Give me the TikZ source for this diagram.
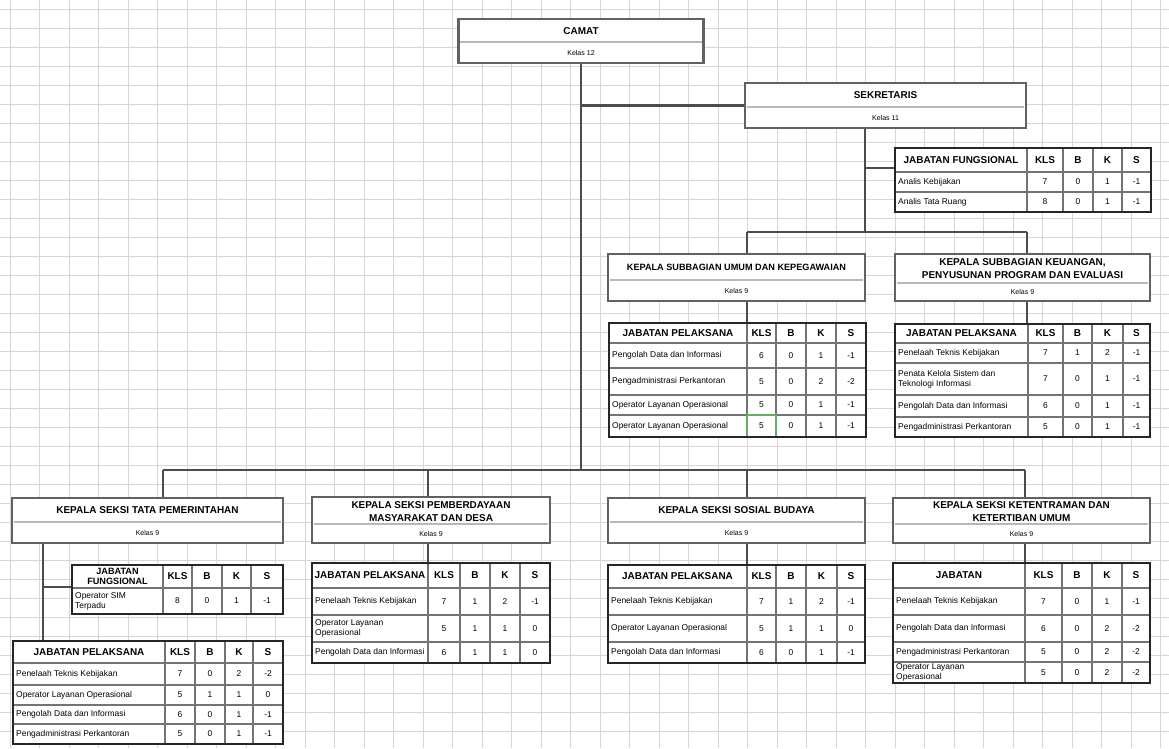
\documentclass[tikz,border=0pt]{standalone}
\usepackage{fontspec}
\setmainfont{Liberation Sans}
\pgfdeclarelayer{background}
\pgfsetlayers{background,main}

\newcommand{\upx}{0.03cm}
% kolom tabel: kiri, KLS, B, K, S, kanan
\newcommand{\kolom}[6]{\def\tL{#1}\def\tA{#2}\def\tB{#3}\def\tC{#4}\def\tD{#5}\def\tR{#6}}
\newcommand{\bingkai}[2]{%
  \fill[white] (\tL,#1) rectangle (\tR,#2);
  \foreach \cx in {\tA,\tB,\tC,\tD} \draw[dalam] (\cx,#1) -- (\cx,#2);
}
\newcommand{\tutup}[2]{\draw[luar] (\tL,#1) rectangle (\tR,#2);}
\newcommand{\kepala}[5][]{%
  \node[tkepala,#1] (#2-j) at ({(\tL+\tA)/2},{(#3+#4)/2}) {#5};
  \node[tkepala] (#2-k) at ({(\tA+\tB)/2},{(#3+#4)/2}) {KLS};
  \node[tkepala] (#2-b) at ({(\tB+\tC)/2},{(#3+#4)/2}) {B};
  \node[tkepala] (#2-c) at ({(\tC+\tD)/2},{(#3+#4)/2}) {K};
  \node[tkepala] (#2-s) at ({(\tD+\tR)/2},{(#3+#4)/2}) {S};
}
\newcommand{\baris}[8]{%
  \draw[dalam] (\tL,#2) -- (\tR,#2);
  \node[isi, anchor=west] (#1n) at (\tL+3,{(#2+#3)/2}) {#4};
  \node[isi] (#1k) at ({(\tA+\tB)/2},{(#2+#3)/2}) {#5};
  \node[isi] (#1b) at ({(\tB+\tC)/2},{(#2+#3)/2}) {#6};
  \node[isi] (#1c) at ({(\tC+\tD)/2},{(#2+#3)/2}) {#7};
  \node[isi] (#1s) at ({(\tD+\tR)/2},{(#2+#3)/2}) {#8};
}

\begin{document}
\begin{tikzpicture}[x=0.03cm, y=-0.03cm,
    kisi/.style={draw=black!16, line width=0.5pt},
    hubung/.style={draw=black!70, line width=2.2pt},
    kotak/.style={draw=black!62, line width=2.4pt, fill=white, inner sep=0pt},
    sekat/.style={draw=black!28, line width=2pt},
    luar/.style={draw=black!85, line width=2pt},
    dalam/.style={draw=black!55, line width=1.2pt},
    judul/.style={font=\fontsize{8.5}{11}\selectfont\bfseries, align=center, inner sep=0pt},
    kelas/.style={font=\fontsize{6}{7}\selectfont, inner sep=0pt},
    tkepala/.style={font=\fontsize{8.5}{9}\selectfont\bfseries, align=center, inner sep=0pt},
    isi/.style={font=\fontsize{7.2}{8.5}\selectfont, align=left, inner sep=0pt},
    ]

    \useasboundingbox (0,0) rectangle (1169,748);

    % kotak jabatan struktural
    \node[kotak, minimum width=245*\upx, minimum height=44*\upx] (camat) at (581,41) {};
    \node[kotak, minimum width=281*\upx, minimum height=45*\upx] (sekre) at (885.5,105.5) {};
    \node[kotak, minimum width=257*\upx, minimum height=47*\upx] (subum) at (736.5,277.5) {};
    \node[kotak, minimum width=255*\upx, minimum height=47*\upx] (subkeu) at (1022.5,277.5) {};
    \node[kotak, minimum width=271*\upx, minimum height=45*\upx] (kstp) at (147.5,520.5) {};
    \node[kotak, minimum width=238*\upx, minimum height=46*\upx] (kspm) at (431,520) {};
    \node[kotak, minimum width=257*\upx, minimum height=45*\upx] (kssb) at (736.5,520.5) {};
    \node[kotak, minimum width=257*\upx, minimum height=45*\upx] (kstt) at (1021.5,520.5) {};

    \draw[sekat] (460,42) -- (702,42);
    \draw[sekat] (747,107) -- (1024,107);
    \draw[sekat] (610,280) -- (863,280);
    \draw[sekat] (897,283) -- (1148,283);
    \draw[sekat] (14,522) -- (281,522);
    \draw[sekat] (314,524) -- (548,524);
    \draw[sekat] (610,522) -- (863,522);
    \draw[sekat] (895,524) -- (1148,524);

    \node[judul] (camat-j) at (581,31) {CAMAT};
    \node[kelas] (camat-k) at (581,53) {Kelas 12};
    \node[judul] (sekre-j) at (885.5,95) {SEKRETARIS};
    \node[kelas] (sekre-k) at (885.5,118) {Kelas 11};
    \node[judul, font=\fontsize{7.8}{9}\selectfont\bfseries] (subum-j) at (736.5,267) {KEPALA SUBBAGIAN UMUM DAN KEPEGAWAIAN};
    \node[kelas] (subum-k) at (736.5,291) {Kelas 9};
    \node[judul] (subkeu-j) at (1022.5,268.5) {KEPALA SUBBAGIAN KEUANGAN,\\PENYUSUNAN PROGRAM DAN EVALUASI};
    \node[kelas] (subkeu-k) at (1022.5,292) {Kelas 9};
    \node[judul] (kstp-j) at (147.5,510) {KEPALA SEKSI TATA PEMERINTAHAN};
    \node[kelas] (kstp-k) at (147.5,533) {Kelas 9};
    \node[judul] (kspm-j) at (431,511.5) {KEPALA SEKSI PEMBERDAYAAN\\MASYARAKAT DAN DESA};
    \node[kelas] (kspm-k) at (431,533.5) {Kelas 9};
    \node[judul] (kssb-j) at (736.5,510) {KEPALA SEKSI SOSIAL BUDAYA};
    \node[kelas] (kssb-k) at (736.5,533) {Kelas 9};
    \node[judul] (kstt-j) at (1021.5,511.5) {KEPALA SEKSI KETENTRAMAN DAN\\KETERTIBAN UMUM};
    \node[kelas] (kstt-k) at (1021.5,533.5) {Kelas 9};

    % titik bantu garis
    \coordinate (busA) at (581,470);
    \coordinate (busKiri) at (163,470);
    \coordinate (busKanan) at (1025,470);
    \coordinate (dpm) at (428,470);
    \coordinate (dsb) at (747,470);
    \coordinate (skb) at (865,232);
    \coordinate (busB1) at (747,232);
    \coordinate (busB2) at (1027,232);
    \coordinate (tfung) at (895,168);
    \coordinate (tum) at (747,323);
    \coordinate (tkeu) at (1027,324);
    \coordinate (tpa) at (43,641);
    \coordinate (tpf) at (72,587);
    \coordinate (tpm) at (428,563);
    \coordinate (tsb) at (747,565);
    \coordinate (ttt) at (1025,563);

    \begin{pgfonlayer}{background}
    \fill[white] (0,0) rectangle (1169,748);
    % kisi lembar kerja
    \foreach \gx in {10,39.5,...,1169} \draw[kisi] (\gx,0) -- (\gx,748);
    \foreach \gy in {9,28,...,748} \draw[kisi] (0,\gy) -- (1169,\gy);
    % garis hubung
    \draw[hubung] (camat.south) -- (busA);
    \draw[hubung] (camat.south |- sekre.west) -- (sekre.west);
    \draw[hubung] (skb |- sekre.south) -- (skb);
    \draw[hubung] (skb |- tfung) -- (tfung);
    \draw[hubung] (busB1) -- (busB2);
    \draw[hubung] (busB1) -- (tum);
    \draw[hubung] (busB2) -- (tkeu);
    \draw[hubung] (busKiri) -- (busKanan);
    \draw[hubung] (busKiri) -- (busKiri |- kstp.north);
    \draw[hubung] (tpa |- kstp.south) -- (tpa);
    \draw[hubung] (tpa |- tpf) -- (tpf);
    \draw[hubung] (dpm) -- (tpm);
    \draw[hubung] (dsb) -- (tsb);
    \draw[hubung] (busKanan) -- (ttt);
    \end{pgfonlayer}

    % tabel fungsional sekretariat
    \kolom{895}{1027}{1063}{1093}{1122}{1151}
    \bingkai{148}{212}
    \kepala{fs}{148}{172}{JABATAN FUNGSIONAL}
    \baris{fs1}{172}{192}{Analis Kebijakan}{7}{0}{1}{-1}
    \baris{fs2}{192}{212}{Analis Tata Ruang}{8}{0}{1}{-1}
    \tutup{148}{212}

    % tabel subbagian umum
    \kolom{609}{747}{776}{806}{836}{866}
    \bingkai{323}{437}
    \kepala{um}{323}{343}{JABATAN PELAKSANA}
    \baris{um1}{343}{368}{Pengolah Data dan Informasi}{6}{0}{1}{-1}
    \baris{um2}{368}{395}{Pengadministrasi Perkantoran}{5}{0}{2}{-2}
    \baris{um3}{395}{415}{Operator Layanan Operasional}{5}{0}{1}{-1}
    \baris{um4}{415}{437}{Operator Layanan Operasional}{5}{0}{1}{-1}
    \draw[draw=green!45!black!60, line width=1.2pt] (747,415) rectangle (776,437);
    \tutup{323}{437}

    % tabel subbagian keuangan
    \kolom{895}{1028}{1063}{1092}{1123}{1150}
    \bingkai{324}{437}
    \kepala{ku}{324}{343}{JABATAN PELAKSANA}
    \baris{ku1}{343}{363}{Penelaah Teknis Kebijakan}{7}{1}{2}{-1}
    \baris{ku2}{363}{395}{Penata Kelola Sistem dan\\Teknologi Informasi}{7}{0}{1}{-1}
    \baris{ku3}{395}{417}{Pengolah Data dan Informasi}{6}{0}{1}{-1}
    \baris{ku4}{417}{437}{Pengadministrasi Perkantoran}{5}{0}{1}{-1}
    \tutup{324}{437}

    % tabel fungsional tata pemerintahan
    \kolom{72}{163}{192}{222}{251}{283}
    \bingkai{565}{614}
    \kepala[font=\fontsize{7.8}{8}\selectfont\bfseries]{tf}{565}{588}{JABATAN\\FUNGSIONAL}
    \baris{tf1}{588}{614}{Operator SIM\\Terpadu}{8}{0}{1}{-1}
    \tutup{565}{614}

    % tabel pelaksana tata pemerintahan
    \kolom{13}{165}{195}{225}{253}{283}
    \bingkai{641}{744}
    \kepala{tp}{641}{663}{JABATAN PELAKSANA}
    \baris{tp1}{663}{685}{Penelaah Teknis Kebijakan}{7}{0}{2}{-2}
    \baris{tp2}{685}{705}{Operator Layanan Operasional}{5}{1}{1}{0}
    \baris{tp3}{705}{724}{Pengolah Data dan Informasi}{6}{0}{1}{-1}
    \baris{tp4}{724}{744}{Pengadministrasi Perkantoran}{5}{0}{1}{-1}
    \tutup{641}{744}

    % tabel pemberdayaan masyarakat dan desa
    \kolom{312}{428}{460}{490}{520}{550}
    \bingkai{563}{663}
    \kepala{pm}{563}{588}{JABATAN PELAKSANA}
    \baris{pm1}{588}{615}{Penelaah Teknis Kebijakan}{7}{1}{2}{-1}
    \baris{pm2}{615}{642}{Operator Layanan\\Operasional}{5}{1}{1}{0}
    \baris{pm3}{642}{663}{Pengolah Data dan Informasi}{6}{1}{1}{0}
    \tutup{563}{663}

    % tabel sosial budaya
    \kolom{608}{747}{776}{806}{837}{865}
    \bingkai{565}{663}
    \kepala{sb}{565}{588}{JABATAN PELAKSANA}
    \baris{sb1}{588}{615}{Penelaah Teknis Kebijakan}{7}{1}{2}{-1}
    \baris{sb2}{615}{642}{Operator Layanan Operasional}{5}{1}{1}{0}
    \baris{sb3}{642}{663}{Pengolah Data dan Informasi}{6}{0}{1}{-1}
    \tutup{565}{663}

    % tabel ketentraman dan ketertiban umum
    \kolom{893}{1025}{1062}{1092}{1122}{1150}
    \bingkai{563}{683}
    \kepala{tt}{563}{588}{JABATAN}
    \baris{tt1}{588}{615}{Penelaah Teknis Kebijakan}{7}{0}{1}{-1}
    \baris{tt2}{615}{642}{Pengolah Data dan Informasi}{6}{0}{2}{-2}
    \baris{tt3}{642}{662}{Pengadministrasi Perkantoran}{5}{0}{2}{-2}
    \baris{tt4}{662}{683}{Operator Layanan\\Operasional}{5}{0}{2}{-2}
    \tutup{563}{683}
\end{tikzpicture}
\end{document}
